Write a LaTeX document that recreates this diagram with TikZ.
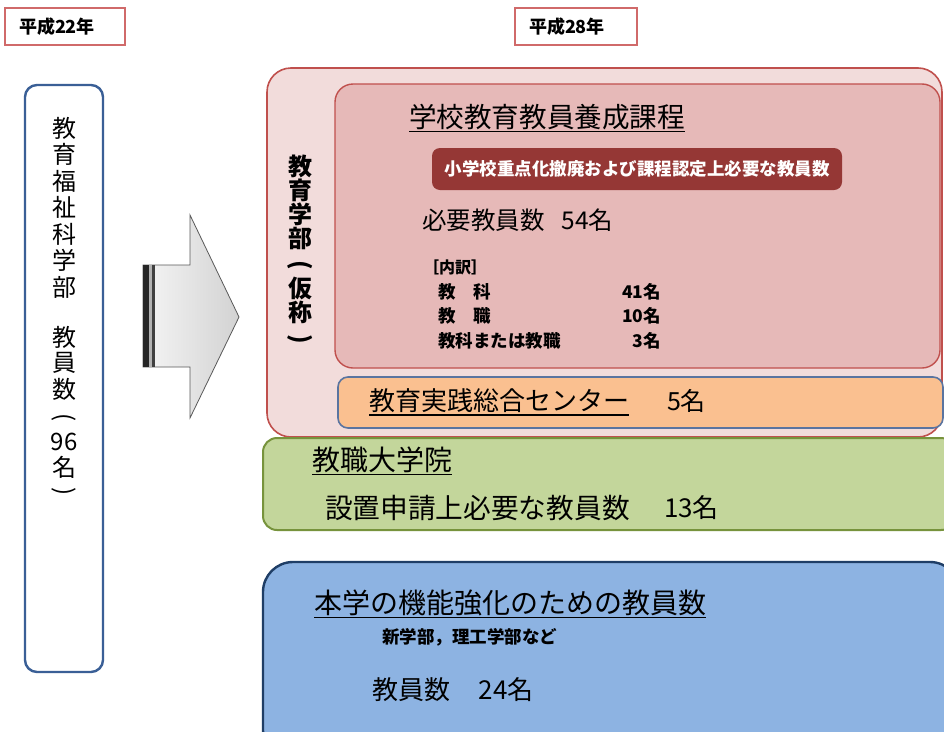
\documentclass[tikz,border=0pt]{standalone}
\usepackage{fontspec}
\setmainfont{Noto Sans CJK JP}
\definecolor{yearred}{HTML}{D06A6A}
\definecolor{pinkout}{HTML}{F2DCDB}
\definecolor{pinkin}{HTML}{E6B9B8}
\definecolor{redline}{HTML}{C0504D}
\definecolor{bannerred}{HTML}{953735}
\definecolor{orangefill}{HTML}{FAC090}
\definecolor{orangeline}{HTML}{5A74A0}
\definecolor{greenfill}{HTML}{C3D69B}
\definecolor{greenline}{HTML}{77933C}
\definecolor{bluefill}{HTML}{8DB3E2}
\definecolor{blueline}{HTML}{1F3E66}
\definecolor{leftline}{HTML}{3A5F96}
\newcommand{\fs}[1]{\fontsize{#1}{#1}\selectfont}
\begin{document}
\begin{tikzpicture}[x=1pt,y=-1pt,
  every node/.style={inner sep=0pt, outer sep=0pt},
  tx/.style={anchor=west, text=black},
  vch/.style={font=\fs{24}},
  vchb/.style={font=\bfseries\fs{24}},
  yearbox/.style={draw=yearred, line width=1.6pt, fill=white},
  uline/.style={line width=1.3pt, black}]
\useasboundingbox (0,0) rectangle (944,731);
\clip (0,0) rectangle (944,731);
\fill[white] (0,0) rectangle (944,731);

% year labels
\draw[yearbox] (5,8) rectangle (125,45);
\node[tx, font=\bfseries\fs{18}] (y22) at (19,27) {平成22年};
\draw[yearbox] (515,8) rectangle (637,45);
\node[tx, font=\bfseries\fs{18}] (y28) at (529,27) {平成28年};

% left box
\draw[leftline, line width=2.4pt, fill=white, rounded corners=12pt] (25,85) rectangle (103,672);
\foreach \c [count=\i from 0] in {教,育,福,祉,科,学,部}
  \node[vch] (la\i) at (64,{128+\i*26.5}) {\c};
\node[vch] (lb0) at (64,337) {教};
\node[vch] (lb1) at (64,363) {員};
\node[vch] (lb2) at (64,389) {数};
\node[vch, rotate=-90] (lb3) at (64,418) {(};
\node[vch] (lb4) at (64,442) {96};
\node[vch] (lb5) at (64,467) {名};
\node[vch, rotate=-90] (lb6) at (64,492) {)};

% big arrow
\shade[left color=gray!8, right color=gray!35, draw=gray!70!black, line width=0.8pt]
  (143,265) -- (190,265) -- (190,215) -- (239,317) -- (190,418) -- (190,367) -- (143,367) -- cycle;
\fill[black!85] (143,265) rectangle (149,367);
\fill[gray!60] (149,265) rectangle (152,367);
\fill[black!75] (152,265) rectangle (155,367);

% faculty of education (outer pink)
\draw[redline, line width=1.6pt, fill=pinkout, rounded corners=24pt] (267,68) rectangle (942,437);
\node[vchb] (f0) at (300,166) {教};
\node[vchb] (f1) at (300,190) {育};
\node[vchb] (f2) at (300,214) {学};
\node[vchb] (f3) at (300,238) {部};
\node[vchb, rotate=-90] (f4) at (300,265) {(};
\node[vchb] (f5) at (300,288) {仮};
\node[vchb] (f6) at (300,312) {称};
\node[vchb, rotate=-90] (f7) at (300,339) {)};

% inner pink box
\draw[redline, line width=1.4pt, fill=pinkin, rounded corners=18pt] (335,84) rectangle (940,368);
\node[tx, font=\fs{27.6}] (course) at (409,117) {学校教育教員養成課程};
\draw[uline] ([yshift=-4pt]course.base west) -- ([yshift=-4pt]course.base east);
\node[fill=bannerred, rounded corners=8pt, minimum width=410pt, minimum height=42pt, anchor=north west] (banner) at (432,148) {};
\node[text=white, font=\bfseries\fs{17.5}] (bannertext) at (banner.center) {小学校重点化撤廃および課程認定上必要な教員数};
\node[tx, font=\fs{24.5}] (need) at (422,220) {必要教員数\hspace{0.7em}54名};
\node[tx, font=\bfseries\fs{16}] (uchiwake) at (423,267) {［内訳］};
\node[tx, font=\bfseries\fs{17.5}] (r1) at (438,292) {教\hspace{1em}科};
\node[anchor=east, font=\bfseries\fs{17.5}] (n1) at (661,292) {41名};
\node[tx, font=\bfseries\fs{17.5}] (r2) at (438,316) {教\hspace{1em}職};
\node[anchor=east, font=\bfseries\fs{17.5}] (n2) at (661,316) {10名};
\node[tx, font=\bfseries\fs{17.5}] (r3) at (438,341) {教科または教職};
\node[anchor=east, font=\bfseries\fs{17.5}] (n3) at (661,341) {3名};

% center (orange)
\draw[orangeline, line width=1.6pt, fill=orangefill, rounded corners=10pt] (338,377) rectangle (943,428);
\node[tx, font=\fs{26}] (center) at (369,401) {教育実践総合センター};
\draw[uline] ([yshift=-4pt]center.base west) -- ([yshift=-4pt]center.base east);
\node[tx, font=\fs{25}] (centern) at (667,401) {5名};

% graduate school (green)
\draw[greenline, line width=2pt, fill=greenfill, rounded corners=14pt] (263,438) rectangle (955,530);
\node[tx, font=\fs{28}] (grad) at (312,460) {教職大学院};
\draw[uline] ([yshift=-4pt]grad.base west) -- ([yshift=-4pt]grad.base east);
\node[tx, font=\fs{27.7}] (gradneed) at (325,508) {設置申請上必要な教員数};
\node[tx, font=\fs{26}] (gradn) at (664,508) {13名};

% strengthening (blue)
\draw[blueline, line width=2.4pt, fill=bluefill, rounded corners=30pt] (263,562) rectangle (960,760);
\node[tx, font=\fs{28}] (kinou) at (314,603) {本学の機能強化のための教員数};
\draw[uline] ([yshift=-4pt]kinou.base west) -- ([yshift=-4pt]kinou.base east);
\node[tx, font=\bfseries\fs{17.5}] (newfac) at (382,637) {新学部，理工学部など};
\node[tx, font=\fs{26}] (kinoun) at (372,690) {教員数\hspace{1.1em}24名};
\end{tikzpicture}
\end{document}
